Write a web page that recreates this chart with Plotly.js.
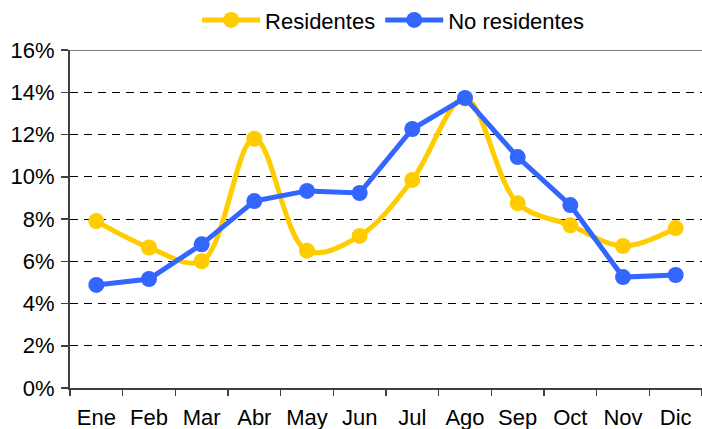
<!DOCTYPE html>
<html>
<head>
<meta charset="utf-8">
<script src="https://cdn.plot.ly/plotly-3.0.1.min.js"></script>
<style>html,body{margin:0;padding:0;background:#fff;}#chart{width:702px;height:429px;}</style>
</head>
<body>
<div id="chart"></div>
<script>
const months = ["Ene","Feb","Mar","Abr","May","Jun","Jul","Ago","Sep","Oct","Nov","Dic"];
const residentes = [7.9, 6.65, 6.0, 11.8, 6.5, 7.2, 9.85, 13.7, 8.75, 7.7, 6.72, 7.57];
const noResidentes = [4.88, 5.16, 6.8, 8.85, 9.33, 9.23, 12.26, 13.73, 10.93, 8.66, 5.25, 5.35];
const yTicks = [0, 2, 4, 6, 8, 10, 12, 14, 16];
const yTickText = yTicks.map(v => v + "%");

const font = {family: "Liberation Sans, Arial, sans-serif", size: 22, color: "#000"};

const traces = [
  {x: months, y: residentes, name: "Residentes", type: "scatter", mode: "lines+markers",
   line: {color: "#FFCC00", width: 5, shape: "spline", smoothing: 1},
   marker: {color: "#FFCC00", size: 16}},
  {x: months, y: noResidentes, name: "No residentes", type: "scatter", mode: "lines+markers",
   line: {color: "#3366FF", width: 5},
   marker: {color: "#3366FF", size: 16}}
];

const layout = {
  width: 702, height: 429,
  margin: {l: 70, r: 0, t: 50, b: 41},
  paper_bgcolor: "#fff", plot_bgcolor: "#fff",
  font: font,
  showlegend: true,
  legend: {orientation: "h", x: 0.56, xanchor: "center", y: 0.953, yanchor: "middle",
           xref: "container", yref: "container",
           font: {family: font.family, size: 22, color: "#000"}, itemwidth: 58,
           traceorder: "normal", bgcolor: "rgba(0,0,0,0)"},
  xaxis: {type: "category", tickson: "boundaries", ticks: "outside", ticklen: 6,
          tickcolor: "#404040", tickwidth: 1.5, showgrid: false, showline: true,
          linecolor: "#404040", linewidth: 2, range: [-0.5, 11.5], fixedrange: true,
          tickfont: font, ticklabelstandoff: 9},
  yaxis: {range: [0, 16], tickvals: yTicks, ticktext: yTickText, ticks: "outside",
          ticklen: 7, tickcolor: "#404040", tickwidth: 1.5, showline: true,
          linecolor: "#404040", linewidth: 2, showgrid: true, gridcolor: "#000",
          gridwidth: 1, griddash: "8px,6px", zeroline: false, tickfont: font,
          ticklabelstandoff: 2, fixedrange: true},
  shapes: [{type: "line", xref: "paper", yref: "y", x0: 0, x1: 1, y0: 16, y1: 16,
            line: {color: "#808080", width: 2}, layer: "below"}]
};

Plotly.newPlot("chart", traces, layout, {displayModeBar: false, staticPlot: true});
</script>
</body>
</html>
